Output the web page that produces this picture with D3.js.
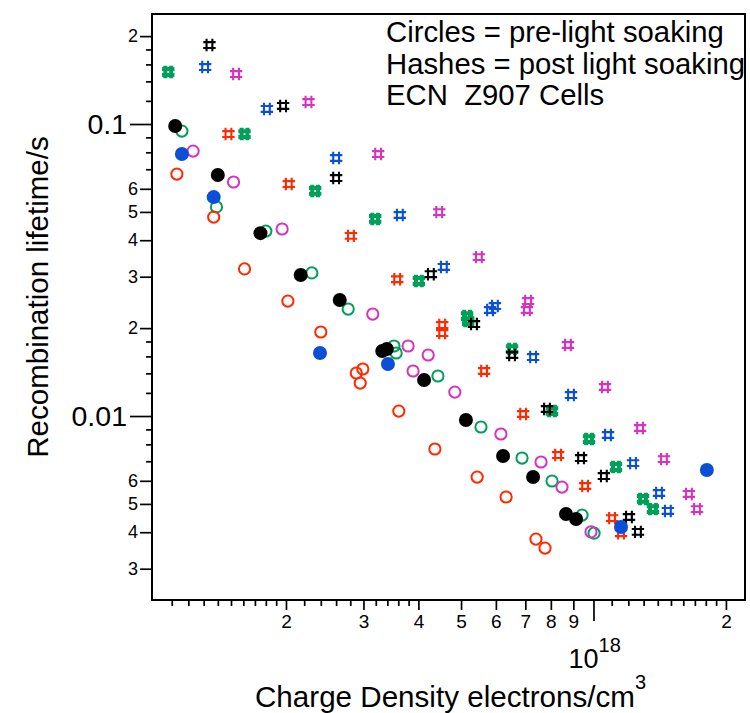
<!DOCTYPE html>
<html>
<head>
<meta charset="utf-8">
<script src="https://cdn.jsdelivr.net/npm/d3@7"></script>
<style>
  html, body { margin: 0; padding: 0; background: #fff; }
  svg text { font-family: "Liberation Sans", Arial, Helvetica, sans-serif; fill: #000; }
</style>
</head>
<body>
<div id="chart"></div>
<script>
(function () {
  'use strict';

  // ── Data (x in units of 1e17 electrons/cm3, y = lifetime in s) ──
  var blackPre = [[1.12, 0.0984], [1.40, 0.0669], [1.75, 0.0423], [2.16, 0.0304], [2.65, 0.02496], [3.31, 0.0167],
    [3.39, 0.01696], [4.12, 0.01328], [5.13, 0.00969], [6.23, 0.0073], [7.29, 0.00618], [8.66, 0.00462], [9.13, 0.00444]];
  var bluePre = [[1.16, 0.0789], [1.37, 0.0562], [2.39, 0.01644], [3.41, 0.01507], [11.55, 0.00417], [18.1, 0.00653]];
  var greenPre = [[1.16, 0.0946], [1.39, 0.0520], [1.80, 0.0430], [2.29, 0.0309], [2.77, 0.02325], [3.52, 0.01737],
    [3.56, 0.01644], [4.43, 0.01371], [5.55, 0.00917], [6.88, 0.00718], [8.05, 0.00599], [9.42, 0.00458], [10.03, 0.00397]];
  var redPre = [[1.13, 0.0674], [1.37, 0.0480], [1.61, 0.0319], [2.02, 0.02476], [2.40, 0.0194], [2.89, 0.01404],
    [2.99, 0.01449], [2.95, 0.01297], [3.61, 0.0104], [4.36, 0.00771], [5.44, 0.00618], [6.33, 0.00528], [7.40, 0.00379], [7.76, 0.00353]];
  var magentaPre = [[1.23, 0.0808], [1.52, 0.0633], [1.96, 0.0437], [3.15, 0.02235], [3.79, 0.01737], [4.21, 0.01618],
    [3.89, 0.01426], [4.84, 0.01208], [6.16, 0.00868], [7.60, 0.00696], [8.48, 0.00571], [9.87, 0.00401]];

  var blackPost = [[1.34, 0.1864], [1.97, 0.1153], [2.60, 0.0653], [4.27, 0.0306], [5.35, 0.02065], [6.53, 0.01618],
    [7.84, 0.01057], [9.37, 0.00718], [10.56, 0.00623], [12.04, 0.00451], [12.62, 0.00401]];
  var bluePost = [[1.31, 0.1567], [1.81, 0.1126], [2.60, 0.0765], [3.63, 0.0488], [4.57, 0.0324], [5.82, 0.02307],
    [5.97, 0.0238], [7.29, 0.01592], [8.89, 0.0118], [10.79, 0.00861], [12.30, 0.0069], [14.09, 0.00545], [14.76, 0.00473]];
  var greenPost = [[1.08, 0.1507], [1.61, 0.0924], [2.33, 0.059], [3.19, 0.0473], [4.01, 0.029], [5.16, 0.022],
    [5.19, 0.02115], [6.53, 0.01696], [8.05, 0.0104], [9.77, 0.00834], [11.25, 0.00669], [12.96, 0.0052], [13.65, 0.0048]];
  var redPost = [[1.48, 0.0924], [2.03, 0.0623], [2.81, 0.0414], [3.58, 0.0294], [4.53, 0.02049], [4.53, 0.01924],
    [5.64, 0.01426], [6.92, 0.01016], [8.31, 0.00735], [9.57, 0.00576], [11.02, 0.00447], [11.55, 0.00397]];
  var magentaPost = [[1.54, 0.1483], [2.25, 0.1189], [3.24, 0.0789], [4.46, 0.0499], [5.49, 0.035], [7.10, 0.02476],
    [7.06, 0.02307], [8.75, 0.01751], [10.62, 0.01257], [12.76, 0.0091], [14.46, 0.00712], [16.48, 0.00541], [17.19, 0.0048]];

  // ── Ticks ──
  var xMinorTicks = [1.1, 1.2, 1.3, 1.4, 1.5, 1.6, 1.7, 1.8, 1.9, 2.2, 2.4, 2.6, 2.8, 3.2, 3.4, 3.6, 3.8,
    11, 12, 13, 14, 15, 16, 17, 18, 19];
  var xMidTicks = [2, 3, 4, 5, 6, 7, 8, 9, 20];
  var xMidLabels = ['2', '3', '4', '5', '6', '7', '8', '9', '2'];
  var xLongTicks = [10];

  var yMinorTicks = [0.12, 0.14, 0.16, 0.18, 0.07, 0.08, 0.09, 0.012, 0.014, 0.016, 0.018, 0.007, 0.008, 0.009];
  var yMidTicks = [0.2, 0.06, 0.05, 0.04, 0.03, 0.02, 0.006, 0.005, 0.004, 0.003];
  var yMidLabels = ['2', '6', '5', '4', '3', '2', '6', '5', '4', '3'];
  var yLongTicks = [0.1, 0.01];
  var yLongLabels = ['0.1', '0.01'];

  var legendLines = ['Circles = pre-light soaking', 'Hashes = post light soaking', 'ECN  Z907 Cells'];

  var colors = { black: '#000000', blue: '#0a4fd6', green: '#00a05a', red: '#ff2a00', magenta: '#d633c0' };

  // ── Layout ──
  var W = 750, H = 713;
  var box = { left: 152, top: 14, right: 745, bottom: 600 };

  var svg = d3.select('#chart').append('svg')
    .attr('width', W)
    .attr('height', H);

  var x = d3.scaleLog().domain([0.992, 22.1]).range([box.left, box.right]);
  var y = d3.scaleLog().domain([0.002344, 0.2381]).range([box.bottom, box.top]);

  function styleAxis(g) {
    g.select('.domain').remove();
    g.selectAll('.tick line').attr('stroke', '#000').attr('stroke-width', 1.7);
  }

  // x axis
  svg.append('g').attr('transform', 'translate(0,' + box.bottom + ')')
    .call(d3.axisBottom(x).tickValues(xMinorTicks).tickSize(6).tickFormat(''))
    .call(styleAxis);
  svg.append('g').attr('transform', 'translate(0,' + box.bottom + ')')
    .call(d3.axisBottom(x).tickValues(xMidTicks).tickSize(10).tickPadding(5)
      .tickFormat(function (d, i) { return xMidLabels[i]; }))
    .call(styleAxis)
    .selectAll('text').attr('font-size', 19).attr('font-family', null);
  svg.append('g').attr('transform', 'translate(0,' + box.bottom + ')')
    .call(d3.axisBottom(x).tickValues(xLongTicks).tickSize(21).tickFormat(''))
    .call(styleAxis);

  var decade = svg.append('text')
    .attr('x', x(10) - 25)
    .attr('y', 668)
    .attr('font-size', 27);
  decade.append('tspan').text('10');
  decade.append('tspan').attr('dy', -16).attr('font-size', 20).text('18');

  // y axis
  svg.append('g').attr('transform', 'translate(' + box.left + ',0)')
    .call(d3.axisLeft(y).tickValues(yMinorTicks).tickSize(6).tickFormat(''))
    .call(styleAxis);
  svg.append('g').attr('transform', 'translate(' + box.left + ',0)')
    .call(d3.axisLeft(y).tickValues(yMidTicks).tickSize(12).tickPadding(2)
      .tickFormat(function (d, i) { return yMidLabels[i]; }))
    .call(styleAxis)
    .selectAll('text').attr('font-size', 18).attr('font-family', null);
  svg.append('g').attr('transform', 'translate(' + box.left + ',0)')
    .call(d3.axisLeft(y).tickValues(yLongTicks).tickSize(22).tickPadding(3)
      .tickFormat(function (d, i) { return yLongLabels[i]; }))
    .call(styleAxis)
    .selectAll('text').attr('font-size', 28.5).attr('font-family', null);

  // frame
  svg.append('rect')
    .attr('x', box.left).attr('y', box.top)
    .attr('width', box.right - box.left).attr('height', box.bottom - box.top)
    .attr('fill', 'none').attr('stroke', '#000').attr('stroke-width', 2);

  // titles
  var xt = svg.append('text').attr('x', 255).attr('y', 707).attr('font-size', 29.6);
  xt.append('tspan').text('Charge Density electrons/cm');
  xt.append('tspan').attr('dy', -18).attr('font-size', 20).text('3');

  svg.append('text')
    .attr('transform', 'translate(48,297) rotate(-90)')
    .attr('text-anchor', 'middle')
    .attr('font-size', 29.5)
    .text('Recombination lifetime/s');

  svg.append('g').selectAll('text')
    .data(legendLines)
    .enter().append('text')
    .attr('x', 386)
    .attr('y', function (d, i) { return 42 + i * 31.5; })
    .attr('font-size', 29.3)
    .style('white-space', 'pre')
    .attr('xml:space', 'preserve')
    .text(function (d) { return d; });

  // ── Marks ──
  var plot = svg.append('g');
  var hashPath = 'M-2.9,-6.2V6.2M2.9,-6.2V6.2M-6.2,-2.9H6.2M-6.2,2.9H6.2';

  function drawHashes(data, color, width) {
    plot.append('g').selectAll('path')
      .data(data)
      .enter().append('path')
      .attr('d', hashPath)
      .attr('transform', function (d) { return 'translate(' + x(d[0]) + ',' + y(d[1]) + ')'; })
      .attr('fill', 'none')
      .attr('stroke', color)
      .attr('stroke-width', width);
  }

  function drawCircles(data, color, filled) {
    plot.append('g').selectAll('circle')
      .data(data)
      .enter().append('circle')
      .attr('cx', function (d) { return x(d[0]); })
      .attr('cy', function (d) { return y(d[1]); })
      .attr('r', filled ? 7 : 5.6)
      .attr('fill', filled ? color : 'none')
      .attr('stroke', filled ? 'none' : color)
      .attr('stroke-width', 2);
  }

  drawHashes(greenPost, colors.green, 4);
  drawHashes(redPost, colors.red, 2.1);
  drawHashes(magentaPost, colors.magenta, 2.1);
  drawHashes(bluePost, colors.blue, 2.1);
  drawHashes(blackPost, colors.black, 2.1);

  drawCircles(greenPre, colors.green, false);
  drawCircles(redPre, colors.red, false);
  drawCircles(magentaPre, colors.magenta, false);
  drawCircles(blackPre, colors.black, true);
  drawCircles(bluePre, colors.blue, true);
})();
</script>
</body>
</html>
